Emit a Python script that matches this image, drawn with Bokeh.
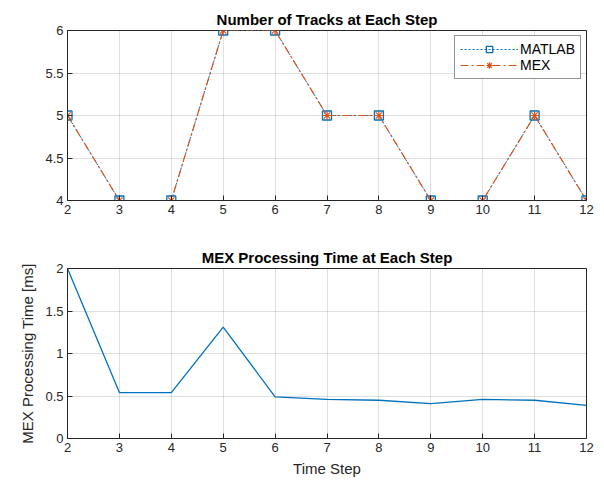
from bokeh.plotting import figure
from bokeh.layouts import column
from bokeh.models import Range1d, FixedTicker, CustomJSTickFormatter
from bokeh.embed import file_html
from bokeh.resources import INLINE

# ---- data ----
steps = [2, 3, 4, 5, 6, 7, 8, 9, 10, 11, 12]
tracks_matlab = [5, 4, 4, 6, 6, 5, 5, 4, 4, 5, 4]
tracks_mex = [5, 4, 4, 6, 6, 5, 5, 4, 4, 5, 4]
mex_time_ms = [2.0, 0.54, 0.54, 1.31, 0.49, 0.46, 0.45, 0.41, 0.46, 0.45, 0.39]
x_ticks = [2, 3, 4, 5, 6, 7, 8, 9, 10, 11, 12]
y1_ticks = [4, 4.5, 5, 5.5, 6]
y2_ticks = [0, 0.5, 1, 1.5, 2]

BLUE = "#0072BD"
ORANGE = "#D95319"
DARK = "#262626"
FONT = "Liberation Sans"


def style(p, xt, yt):
    p.title.text_font = FONT
    p.title.text_font_size = "15px"
    p.title.text_font_style = "bold"
    p.title.text_color = "#000000"
    p.title.align = "center"
    p.title.standoff = 6
    p.outline_line_color = DARK
    p.outline_line_width = 1
    p.outline_line_alpha = 1
    for ax in (p.xaxis[0], p.yaxis[0]):
        ax.major_label_text_font = FONT
        ax.major_label_text_font_size = "13px"
        ax.major_label_text_color = DARK
        ax.axis_line_color = DARK
        ax.major_tick_line_color = DARK
        ax.major_tick_in = 5
        ax.major_tick_out = 0
        ax.minor_tick_line_color = None
        ax.axis_label_text_font = FONT
        ax.axis_label_text_font_size = "15px"
        ax.axis_label_text_font_style = "normal"
        ax.axis_label_text_color = DARK
        ax.formatter = CustomJSTickFormatter(code="return String(tick);")
        ax.major_label_standoff = 4
    p.xaxis[0].ticker = FixedTicker(ticks=xt)
    p.yaxis[0].ticker = FixedTicker(ticks=yt)
    p.xgrid[0].ticker = FixedTicker(ticks=xt)
    p.ygrid[0].ticker = FixedTicker(ticks=yt)
    for g in (p.xgrid[0], p.ygrid[0]):
        g.grid_line_color = DARK
        g.grid_line_alpha = 0.15
        g.grid_line_width = 1


p1 = figure(width=604, height=234, output_backend="svg", toolbar_location=None,
            title="Number of Tracks at Each Step",
            x_range=Range1d(2, 12), y_range=Range1d(4, 6),
            min_border_left=67, min_border_right=18, min_border_top=30, min_border_bottom=34)
style(p1, x_ticks, y1_ticks)

p1.line(steps, tracks_matlab, color=BLUE, line_width=1, line_dash="2 2", legend_label="MATLAB")
p1.scatter(steps, tracks_matlab, marker="square", size=9, line_color=BLUE, fill_color=None,
           line_width=1.3, legend_label="MATLAB")
p1.line(steps, tracks_mex, color=ORANGE, line_width=1.2, line_dash="8 3 2 3", legend_label="MEX")
p1.scatter(steps, tracks_mex, marker="asterisk", size=9, line_color=ORANGE,
           line_width=1.2, legend_label="MEX")

lg = p1.legend[0]
lg.location = "top_right"
lg.margin = 5
lg.padding = 5
lg.spacing = 0
lg.border_line_color = DARK
lg.border_line_width = 1
lg.background_fill_color = "white"
lg.background_fill_alpha = 1
lg.label_text_font = FONT
lg.label_text_font_size = "14px"
lg.label_text_color = "#000000"
lg.label_height = 16
lg.glyph_height = 16
lg.glyph_width = 58
lg.label_standoff = 2

p2 = figure(width=604, height=248, output_backend="svg", toolbar_location=None,
            title="MEX Processing Time at Each Step",
            x_range=Range1d(2, 12), y_range=Range1d(0, 2),
            min_border_left=67, min_border_right=18, min_border_top=34, min_border_bottom=44)
style(p2, x_ticks, y2_ticks)
p2.xaxis[0].axis_label = "Time Step"
p2.yaxis[0].axis_label = "MEX Processing Time [ms]"
p2.xaxis[0].axis_label_standoff = 5
p2.yaxis[0].axis_label_standoff = 6
p2.line(steps, mex_time_ms, color=BLUE, line_width=1.3)

layout = column(p1, p2, spacing=0)
open("out.html", "w").write(file_html(layout, INLINE))
